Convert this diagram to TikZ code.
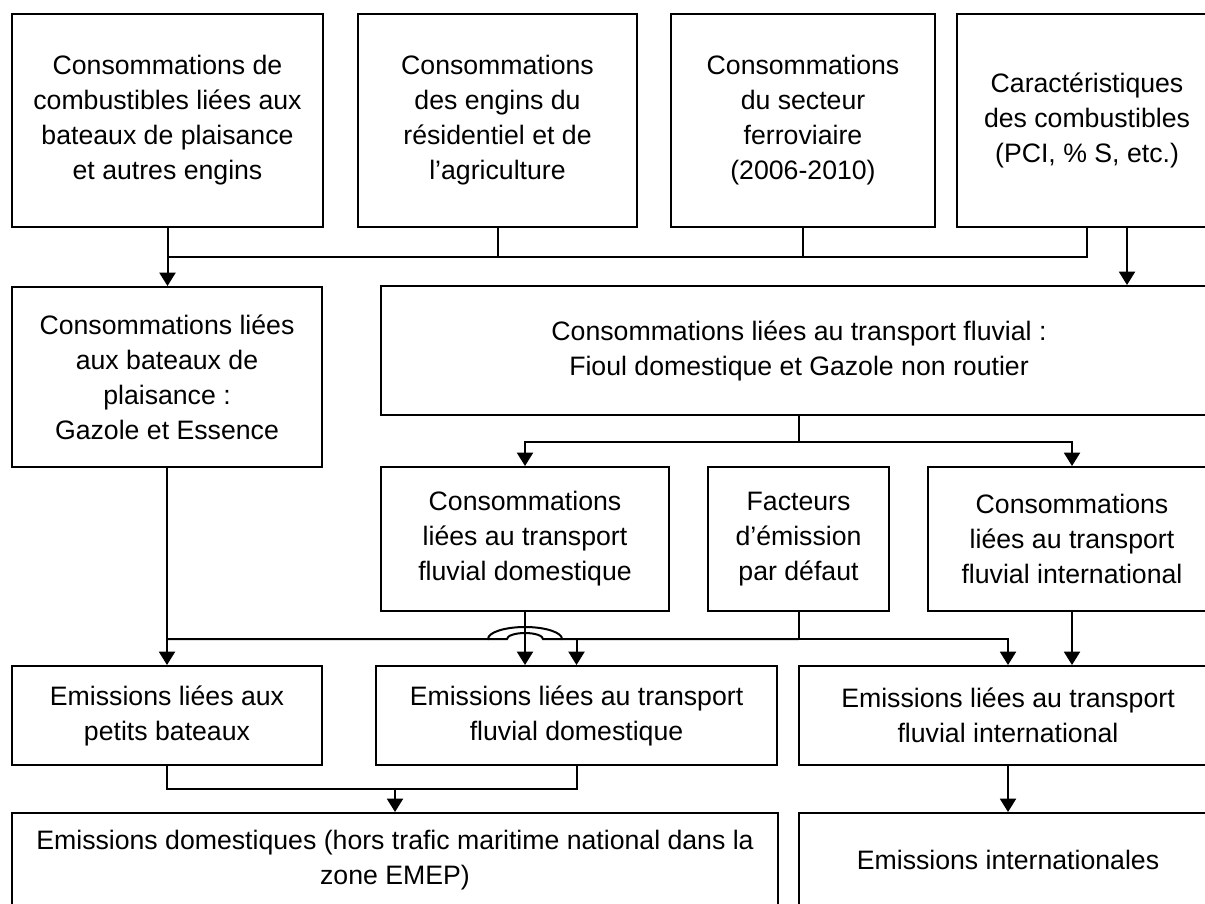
\documentclass[tikz,border=0pt]{standalone}
\usepackage{fontspec}
\setmainfont{Liberation Sans}
\usetikzlibrary{arrows.meta,calc}
\newcommand\mybox[6]{\node[box,minimum width={(#4-#2)*0.75pt},minimum height={(#5-#3)*0.75pt}] (#1) at ({(#2+#4)/2},{(#3+#5)/2}) {#6};}
\begin{document}
\begin{tikzpicture}[x=0.75pt,y=-0.75pt,
  box/.style={draw,line width=1.5pt,inner sep=0pt,align=center,font=\fontsize{20}{26.25}\selectfont},
  arr/.style={line width=1.5pt,-{Triangle[width=12pt,length=10pt]}},
  ln/.style={line width=1.5pt}]
\useasboundingbox (0,0) rectangle (1205,903);
\fill[white] (0,0) rectangle (1205,903);
\clip (0,0) rectangle (1205,903);
% row 1
\mybox{A}{12}{14}{323}{227}{Consommations de\\combustibles liées aux\\bateaux de plaisance\\et autres engins}
\mybox{B}{358}{14}{637}{227}{Consommations\\des engins du\\résidentiel et de\\l’agriculture}
\mybox{C}{671}{14}{935}{227}{Consommations\\du secteur\\ferroviaire\\(2006-2010)}
\mybox{D}{957}{14}{1217}{227}{Caractéristiques\\des combustibles\\(PCI, \% S, etc.)}
% row 2
\mybox{E}{12}{287}{322}{467}{Consommations liées\\aux bateaux de\\plaisance :\\Gazole et Essence}
\mybox{F}{381}{286}{1217}{415}{Consommations liées au transport fluvial :\\Fioul domestique et Gazole non routier}
% row 3
\mybox{G}{381}{467}{669}{611}{Consommations\\liées au transport\\fluvial domestique}
\mybox{H}{708}{467}{889}{611}{Facteurs\\d’émission\\par défaut}
\mybox{I}{928}{467}{1216}{611}{Consommations\\liées au transport\\fluvial international}
% row 4
\mybox{J}{12}{666}{322}{765}{Emissions liées aux\\petits bateaux}
\mybox{K}{376}{666}{777}{765}{Emissions liées au transport\\fluvial domestique}
\mybox{L}{799}{666}{1217}{765}{Emissions liées au transport\\fluvial international}
% row 5
\mybox{M}{12}{813}{778}{907}{Emissions domestiques (hors trafic maritime national dans la\\zone EMEP)}
\mybox{N}{799}{813}{1217}{907}{Emissions internationales}

% connectors row 1 -> row 2
\coordinate (b1) at ($(A.south)+(0,29)$);
\draw[ln] (A.south |- b1) -- (D.south |- b1) -- (D.south);
\draw[ln] (B.south) -- (B.south |- b1);
\draw[ln] (C.south) -- (C.south |- b1);
\draw[arr] (A.south) -- (A.south |- E.north);
\coordinate (d2) at ($(D.south)+(40,0)$);
\draw[arr] (d2) -- (d2 |- F.north);

% F -> G, I
\coordinate (b2) at ($(F.south)+(0,26)$);
\draw[ln] (F.south) -- (b2);
\draw[arr] (b2) -| (G.north);
\draw[arr] (b2) -| (I.north);

% row 3 -> row 4
\coordinate (b3) at ($(H.south)+(0,27)$);
\coordinate (hop) at (G.south |- b3);
\draw[ln] (H.south) -- (b3);
\draw[arr] (b3) -| (L.north);
\draw[arr] (b3) -| (K.north);
\draw[arr] (E.south) -- (E.south |- J.north);
\draw[arr] (G.south) -- (G.south |- K.north);
\draw[arr] (I.south) -- (I.south |- L.north);
\draw[ln] (E.south |- b3) -- ($(hop)+(-37,0)$)
  .. controls +(0,-6.6) and +(-20.4,0) .. ($(hop)+(0,-12)$)
  .. controls +(20.4,0) and +(0,-6.6) .. ($(hop)+(37,0)$) -- (b3);
\draw[ln] ($(hop)+(-37,0)$) -- ($(hop)+(-18,0)$)
  .. controls +(0,-3.3) and +(-10,0) .. ($(hop)+(0,-6)$)
  .. controls +(10,0) and +(0,-3.3) .. ($(hop)+(18,0)$) -- ($(hop)+(37,0)$);

% row 4 -> row 5
\coordinate (b4) at ($(J.south)+(0,23)$);
\draw[ln] (J.south) -- (b4) -- (K.south |- b4) -- (K.south);
\draw[arr] (M.north |- b4) -- (M.north);
\draw[arr] (L.south) -- (N.north);
\end{tikzpicture}
\end{document}
